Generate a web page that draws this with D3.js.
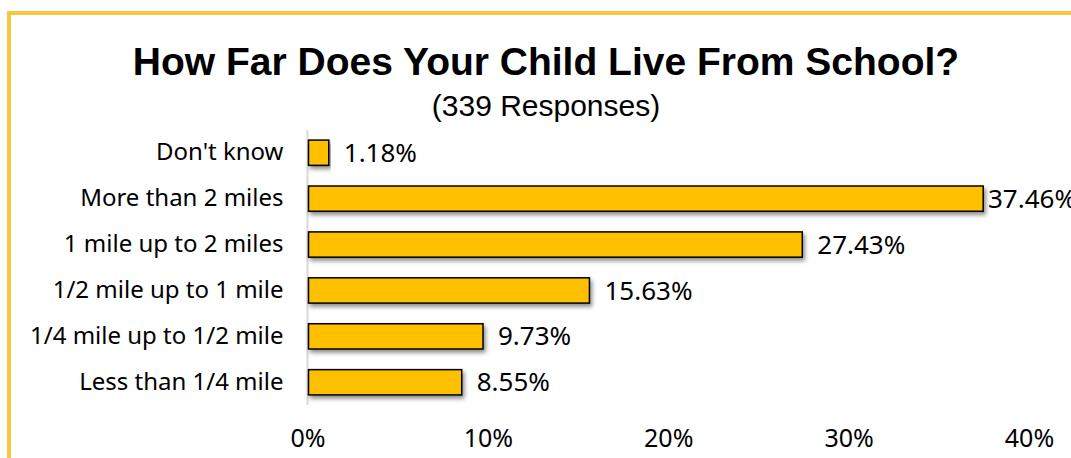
<!DOCTYPE html>
<html>
<head>
<meta charset="utf-8">
<script src="https://cdn.jsdelivr.net/npm/d3@7"></script>
<style>
  html, body { margin: 0; padding: 0; background: #fff; }
  svg { display: block; }
</style>
</head>
<body>
<svg id="chart" width="1071" height="458"></svg>
<script>
// Survey: distance from home to school, share of responses
const categories = [
  "Don't know",
  "More than 2 miles",
  "1 mile up to 2 miles",
  "1/2 mile up to 1 mile",
  "1/4 mile up to 1/2 mile",
  "Less than 1/4 mile"
];
const shares = [1.18, 37.46, 27.43, 15.63, 9.73, 8.55];
const tickValues = [0, 10, 20, 30, 40];
const titleText = "How Far Does Your Child Live From School?";
const subtitleText = "(339 Responses)";

const svg = d3.select("#chart");
const W = 1071, H = 458;

// Drop shadow for the bars
const defs = svg.append("defs");
const f = defs.append("filter").attr("id", "barShadow")
  .attr("x", "-5%").attr("y", "-30%").attr("width", "115%").attr("height", "180%");
f.append("feDropShadow").attr("dx", 2).attr("dy", 3).attr("stdDeviation", 2)
  .attr("flood-color", "#000").attr("flood-opacity", 0.45);

// Frame (top and left edges visible)
svg.append("rect").attr("x", 7).attr("y", 11).attr("width", W).attr("height", 4).attr("fill", "#FAC641");
svg.append("rect").attr("x", 7).attr("y", 11).attr("width", 4).attr("height", H).attr("fill", "#FAC641");

// Titles
svg.append("text").attr("x", 546).attr("y", 75).attr("text-anchor", "middle")
  .attr("font-family", "'Liberation Sans', Arial, sans-serif").attr("font-weight", "bold")
  .attr("font-size", 39).attr("fill", "#000").text(titleText);
svg.append("text").attr("x", 546).attr("y", 116).attr("text-anchor", "middle")
  .attr("font-family", "'Liberation Sans', Arial, sans-serif")
  .attr("font-size", 30).attr("fill", "#000").text(subtitleText);

const x = d3.scaleLinear().domain([0, 40]).range([307.5, 1029]);
const y = d3.scaleBand().domain(categories).range([130, 405]).paddingInner(0.45).paddingOuter(0.22);

const font = "'Noto Sans', 'Open Sans', sans-serif";

// Category axis
const yAxis = svg.append("g").attr("transform", `translate(${x(0)},0)`)
  .call(d3.axisLeft(y).tickSize(0).tickPadding(24));
yAxis.select(".domain").attr("stroke", "#d9d9d9").attr("stroke-width", 2)
  .attr("d", `M0,130V405`);
yAxis.selectAll("text").attr("font-family", font).attr("font-size", 24).attr("fill", "#000");

// Value axis labels only
const xAxis = svg.append("g").attr("transform", `translate(0,426)`)
  .call(d3.axisBottom(x).tickValues(tickValues).tickFormat(d => d + "%").tickSize(0));
xAxis.select(".domain").remove();
xAxis.selectAll("text").attr("font-family", font).attr("font-size", 25).attr("fill", "#000");

const data = categories.map((c, i) => ({ c, v: shares[i] }));

// Bars
svg.append("g").selectAll("rect").data(data).join("rect")
  .attr("x", x(0)+1)
  .attr("y", d => y(d.c))
  .attr("width", d => x(d.v) - x(0) - 1)
  .attr("height", y.bandwidth())
  .attr("fill", "#FFC000")
  .attr("stroke", "#000")
  .attr("stroke-width", 1.5)
  .attr("filter", "url(#barShadow)");

// Value labels; pulled in toward the bar when they would run past the plot edge
svg.append("g").selectAll("text").data(data).join("text")
  .attr("x", d => Math.min(x(d.v) + 15, x(40) - 41))
  .attr("y", d => y(d.c) + y.bandwidth() / 2)
  .attr("dy", "0.35em")
  .attr("font-family", font).attr("font-size", 26).attr("fill", "#000")
  .text(d => d.v.toFixed(2) + "%");
</script>
</body>
</html>
